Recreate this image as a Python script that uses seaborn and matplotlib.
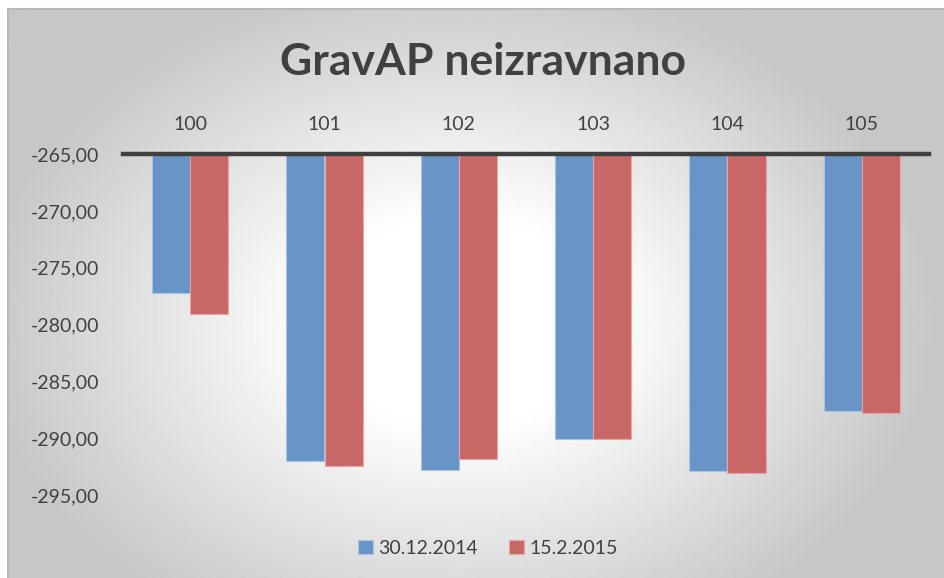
import numpy as np
import pandas as pd
import seaborn as sns
import matplotlib.pyplot as plt
from matplotlib.ticker import FuncFormatter, MultipleLocator

sns.set_theme(style="white")
plt.rcParams['font.family'] = ['Lato', 'DejaVu Sans']

# data
points = ["100", "101", "102", "103", "104", "105"]
series = ["30.12.2014", "15.2.2015"]
vals_2014 = [-277.24, -292.00, -292.79, -290.06, -292.85, -287.57]
vals_2015 = [-279.08, -292.44, -291.85, -290.06, -293.03, -287.80]
base = -265.0
y_min = -295.0

colors = ["#6894c7", "#c86866"]
edges = ["#a9c3e3", "#e8a5a3"]

df = pd.DataFrame({
    "point": points * 2,
    "date": [series[0]] * len(points) + [series[1]] * len(points),
    "value": vals_2014 + vals_2015,
})
# bars hang from the axis crossing at -265
df["drop"] = df["value"] - base

f = plt.figure(figsize=(9.45, 5.78), dpi=100)
f.patch.set_facecolor("white")

# radial grey gradient chart area
bg = f.add_axes([8 / 945, 0, 1 - 8 / 945, 1 - 9 / 578])
gx, gy = np.meshgrid(np.linspace(0, 1, 400), np.linspace(0, 1, 250))
r = np.sqrt(((gx - 0.48) / 0.62) ** 2 + ((gy - 0.55) / 0.75) ** 2)
shade = 1.0 - 0.22 * np.clip((r - 0.24) / 0.58, 0, 1)
bg.imshow(shade, cmap="gray", vmin=0, vmax=1, extent=(0, 1, 0, 1),
          aspect="auto", origin="upper", interpolation="bilinear")
bg.set_xticks([])
bg.set_yticks([])
for side in ["right", "bottom"]:
    bg.spines[side].set_visible(False)
for side in ["left", "top"]:
    bg.spines[side].set_color("#b8b8b8")
    bg.spines[side].set_linewidth(1.5)

ax = f.add_axes([123 / 945, 1 - 495 / 578, (929 - 123) / 945, (495 - 154.3) / 578])
ax.patch.set_alpha(0)

sns.barplot(data=df, x="point", y="drop", hue="date", palette=colors,
            width=0.57, ax=ax, legend=False, saturation=1)
for i, bar in enumerate(ax.patches):
    bar.set_edgecolor(edges[i // len(points)])
    bar.set_linewidth(0.8)

ax.set_ylim(y_min - base, 0)
ax.set_xlim(-0.5, len(points) - 0.5)
ax.yaxis.set_major_locator(MultipleLocator(5))
ax.yaxis.set_major_formatter(FuncFormatter(
    lambda v, p: f"{v + base:.2f}".replace(".", ",")))
ax.xaxis.tick_top()
ax.tick_params(axis="x", length=0, pad=15, labelsize=14, colors="#404040")
ax.tick_params(axis="y", length=0, pad=17, labelsize=14, colors="#404040")
ax.set(xlabel="", ylabel="")
sns.despine(ax=ax, left=True, bottom=True, right=True, top=False)
ax.spines["top"].set_color("#404040")
ax.spines["top"].set_linewidth(3.2)

f.text(483 / 945, 1 - 62 / 578, "GravAP neizravnano", ha="center", va="center",
       fontsize=32, fontweight="bold", color="#404040")

handles = [plt.Rectangle((0, 0), 1, 1, facecolor=c, edgecolor=e, lw=0.8)
           for c, e in zip(colors, edges)]
f.legend(handles, series, loc="center", bbox_to_anchor=(488 / 945, 1 - 548 / 578),
         ncol=2, frameon=False, fontsize=14, labelcolor="#404040",
         handlelength=0.75, handleheight=0.75, handletextpad=0.3, columnspacing=1.6)

f.savefig("out.png", dpi=100)
